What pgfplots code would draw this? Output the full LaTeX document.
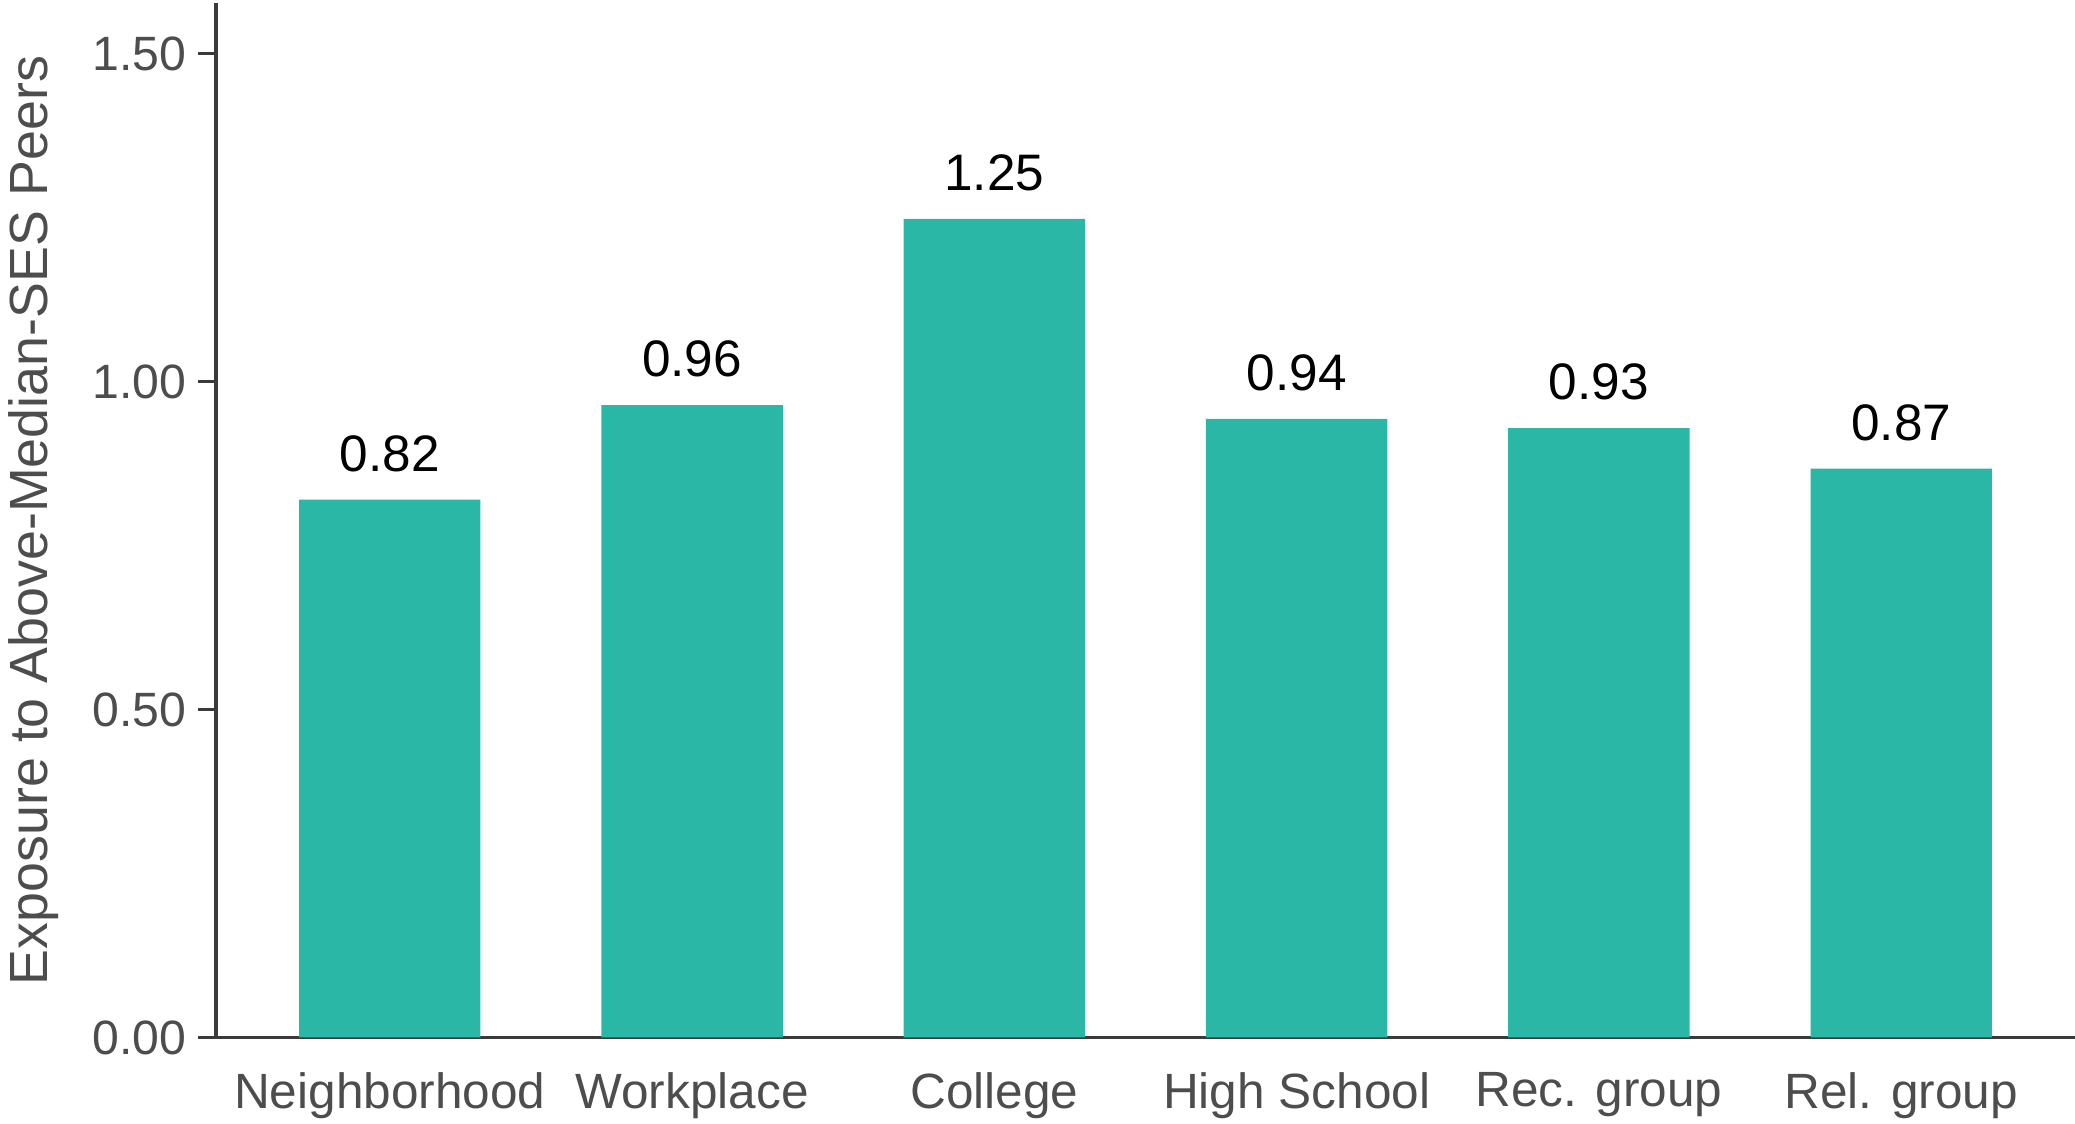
\documentclass[border=0pt]{standalone}
\usepackage{pgfplots}
\pgfplotsset{compat=1.18}
\usepackage{fontspec}
\setmainfont{Liberation Sans}
\definecolor{barcol}{HTML}{2BB7A6}
\definecolor{axcol}{HTML}{3A3A3A}
\definecolor{txtgrey}{HTML}{4D4D4D}
\begin{document}
\begin{tikzpicture}
\begin{axis}[
  at={(0,0)}, anchor=south west,
  width=185.9mm, height=103.45mm, scale only axis,
  xmin=-0.575, xmax=5.575, ymin=0, ymax=1.577,
  axis x line*=bottom, axis y line*=left,
  axis line style={-, draw=axcol, line width=0.9pt},
  ytick={0,0.5,1,1.5},
  yticklabels={0.00,0.50,1.00,1.50},
  xtick={0,1,2,3,4,5},
  xticklabels={Neighborhood,Workplace,College,High School,Rec. group,Rel. group},
  x tick style={draw=none},
  y tick style={draw=axcol, line width=0.9pt},
  tick align=outside,
  major tick length=1.77mm,
  tick label style={text=txtgrey},
  yticklabel style={font=\fontsize{13.7}{16}\selectfont, inner sep=0pt, xshift=-1.15mm},
  xticklabel style={font=\fontsize{14.1}{17}\selectfont, inner sep=0pt, yshift=-1.7mm},
  ylabel={Exposure to Above-Median-SES Peers},
  ylabel style={at={(axis description cs:-0.098,0.5)}, anchor=center, font=\fontsize{15.3}{18}\selectfont, text=txtgrey},
  ybar, bar width=0.6,
  nodes near coords, point meta=explicit symbolic,
  every node near coord/.append style={font=\fontsize{14.6}{17}\selectfont, text=black, inner sep=0pt, anchor=south, yshift=2.7mm},
  clip=false,
]
\addplot[draw=none, fill=barcol, bar shift=0pt] coordinates {
  (0,0.82) [0.82]
  (1,0.964) [0.96]
  (2,1.248) [1.25]
  (3,0.943) [0.94]
  (4,0.929) [0.93]
  (5,0.867) [0.87]
};
\end{axis}
\pgfresetboundingbox
\useasboundingbox (-21.6mm,-8.65mm) rectangle (185.9mm,103.75mm);
\end{tikzpicture}
\end{document}
